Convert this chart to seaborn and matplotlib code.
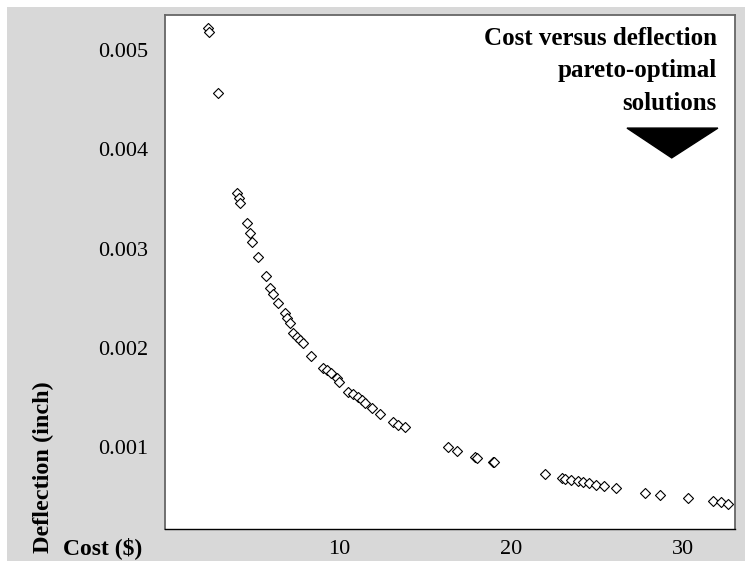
import matplotlib
matplotlib.use('Agg')
import matplotlib.pyplot as plt
import seaborn as sns
import pandas as pd
from matplotlib.patches import Rectangle, Polygon
from matplotlib.ticker import FormatStrFormatter

# pareto-optimal solutions
cost = [2.34, 2.40, 2.92, 4.03, 4.16, 4.24, 4.63, 4.78, 4.92, 5.27,
        5.71, 5.95, 6.14, 6.43, 6.82, 6.95, 7.11, 7.27, 7.50, 7.69,
        7.88, 8.37, 9.05, 9.28, 9.53, 9.83, 9.98, 10.50, 10.79, 11.08,
        11.28, 11.47, 11.86, 12.34, 13.12, 13.41, 13.80, 16.31, 16.86, 17.87,
        18.00, 18.93, 18.97, 21.94, 22.91, 23.10, 23.49, 23.87, 24.16, 24.51,
        24.94, 25.37, 26.06, 27.75, 28.62, 30.27, 31.72, 32.21, 32.59]
deflection = [0.005222, 0.005181, 0.004567, 0.003562, 0.003506, 0.003455, 0.003254, 0.003159, 0.003068, 0.002911,
              0.002723, 0.002599, 0.002542, 0.002448, 0.002347, 0.002297, 0.002246, 0.002146, 0.002111, 0.002078,
              0.002045, 0.001917, 0.001793, 0.001776, 0.001743, 0.001692, 0.001658, 0.001557, 0.001534, 0.001507,
              0.001474, 0.001446, 0.001390, 0.001332, 0.001255, 0.001222, 0.001198, 0.001003, 0.000963, 0.000896,
              0.000886, 0.000852, 0.000846, 0.000728, 0.000685, 0.000675, 0.000667, 0.000660, 0.000650, 0.000634,
              0.000617, 0.000607, 0.000584, 0.000540, 0.000516, 0.000483, 0.000459, 0.000443, 0.000426]
x_ticks = [10, 20, 30]
y_ticks = [0.001, 0.002, 0.003, 0.004, 0.005]
title_lines = ["Cost versus deflection", "pareto-optimal", "solutions"]

df = pd.DataFrame({"cost": cost, "deflection": deflection})

sns.set_style("white")
plt.rcParams['font.family'] = ['Liberation Serif', 'DejaVu Serif']
plt.rcParams['text.color'] = 'black'
plt.rcParams['xtick.color'] = 'black'
plt.rcParams['ytick.color'] = 'black'

fig = plt.figure(figsize=(7.45, 5.61), dpi=100, facecolor='white')
# gray panel with a thin white margin at top and left
fig.patches.append(Rectangle((7 / 745, 0), 1, (561 - 7) / 561, transform=fig.transFigure,
                             facecolor='#d8d8d8', edgecolor='none', zorder=-10))

ax = fig.add_axes([165 / 745, 32 / 561, 570 / 745, 514 / 561])
ax.set_facecolor('white')

sns.scatterplot(data=df, x="cost", y="deflection", ax=ax, marker='D', s=26,
                facecolor='white', edgecolor='black', linewidth=0.8, legend=False)

ax.set_xlim(-0.15, 33.0)
ax.set_ylim(0.000174, 0.005355)
ax.set_xticks(x_ticks)
ax.set_yticks(y_ticks)
ax.yaxis.set_major_formatter(FormatStrFormatter('%.3f'))
ax.tick_params(axis='x', length=0, pad=8, labelsize=16, labelcolor='black')
ax.tick_params(axis='y', length=0, pad=12, labelsize=16, labelcolor='black')
ax.set_xlabel("")
ax.set_ylabel("")

for side in ['left', 'top', 'right']:
    ax.spines[side].set_color('#666666')
    ax.spines[side].set_linewidth(1.3)
ax.spines['bottom'].set_color('black')
ax.spines['bottom'].set_linewidth(1.0)

# annotation block in the upper right corner
for line, y in zip(title_lines, [0.9416, 0.8794, 0.8152]):
    ax.text(0.968, y, line, transform=ax.transAxes, ha='right', va='baseline',
            fontsize=18, fontweight='bold', color='black')
ax.add_patch(Polygon([(0.8105, 0.780), (0.970, 0.780), (0.889, 0.722)], closed=True,
                     transform=ax.transAxes, facecolor='black', edgecolor='black'))

fig.text(63 / 745, 1 - 548 / 561, "Cost ($)", ha='left', va='center',
         fontsize=17, fontweight='bold', color='black')
fig.text(43 / 745, 1 - 553 / 561, "Deflection (inch)", ha='center', va='bottom',
         rotation=90, fontsize=17.5, fontweight='bold', color='black')

plt.savefig("out.png", dpi=100, facecolor=fig.get_facecolor())
plt.close()
